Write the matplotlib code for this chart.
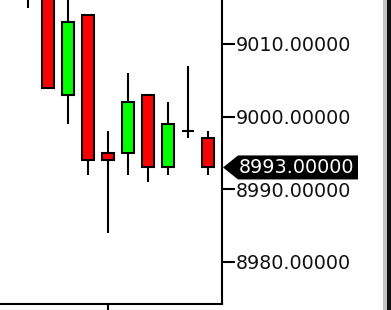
import matplotlib
matplotlib.use('Agg')
import matplotlib.pyplot as plt
from matplotlib.patches import Polygon, Rectangle

# candle data
opens = [9020, 9018, 9003, 9014, 8995, 8995, 9003, 8993, 8998, 8997]
highs = [9022, 9020, 9018, 9014, 8998, 9006, 9003, 9002, 9007, 8998]
lows = [9015, 9004, 8999, 8992, 8984, 8992, 8991, 8992, 8997, 8992]
closes = [9017, 9004, 9013, 8994, 8994, 9002, 8993, 8999, 8998, 8993]
y_ticks = [8980, 8990, 9000, 9010]
last_price = 8993


def main():
    fig = plt.figure(figsize=(3.91, 3.10), dpi=100)
    ax = fig.add_axes([0, 6 / 310, 222 / 391, 1 - 6 / 310])

    idx = list(range(len(opens)))
    ax.vlines(idx, lows, highs, color='black', linewidth=1.5, zorder=1)

    for i in idx:
        o, c = opens[i], closes[i]
        if o == c:
            ax.hlines(o, i - 0.32, i + 0.32, color='black', linewidth=1.5, zorder=2)
            continue
        col = '#00ff00' if c > o else '#ff0000'
        ax.bar(i, c - o, bottom=o, width=0.6, color=col, edgecolor='black',
               linewidth=1.5, zorder=2)

    ax.set_xlim(-1.4, 9.7)
    ax.set_ylim(8974.2, 9016.05)

    ax.spines['top'].set_visible(False)
    ax.spines['left'].set_visible(False)
    ax.spines['right'].set_linewidth(1.5)
    ax.spines['bottom'].set_linewidth(1.5)

    ax.yaxis.tick_right()
    ax.set_yticks(y_ticks)
    ax.set_yticklabels(['%.5f' % v for v in y_ticks])
    ax.tick_params(axis='y', length=9, width=1.5, pad=1.2, labelsize=13.8,
                   labelcolor='#111111')
    ax.set_xticks([4])
    ax.set_xticklabels([''])
    ax.tick_params(axis='x', length=8, width=1.5)

    # current price tag
    x0, y0 = ax.transData.transform((9.7, last_price))
    x0 += 1
    verts = [(x0, y0), (x0 + 15, y0 + 12), (x0 + 135, y0 + 12),
             (x0 + 135, y0 - 12), (x0 + 15, y0 - 12)]
    tag = Polygon(verts, closed=True, facecolor='black', edgecolor='none',
                  transform=None, clip_on=False, zorder=5)
    fig.add_artist(tag)
    fig.text((x0 + 16) / fig.bbox.width, y0 / fig.bbox.height,
             '%.5f' % last_price, color='white', fontsize=13.8,
             va='center', ha='left', zorder=6)

    # window edge at the right
    fig.add_artist(Rectangle((383 / 391, 0), 4 / 391, 1, transform=fig.transFigure,
                             facecolor='#c4c4c4', edgecolor='none'))
    fig.add_artist(Rectangle((387 / 391, 0), 4 / 391, 1, transform=fig.transFigure,
                             facecolor='#111111', edgecolor='none'))

    fig.savefig('out.png', dpi=100)


if __name__ == '__main__':
    main()
